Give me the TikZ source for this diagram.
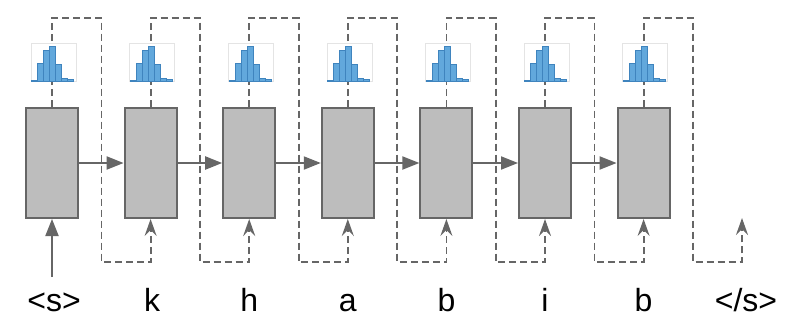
\documentclass[tikz,border=0pt]{standalone}
\usepackage{fontspec}
\setmainfont{Liberation Sans}
\usetikzlibrary{arrows.meta}
\definecolor{lg}{HTML}{666666}
\definecolor{boxfill}{HTML}{BDBDBD}
\definecolor{barblue}{HTML}{62A8DC}
\definecolor{baredge}{HTML}{3F84BE}
\definecolor{framegray}{HTML}{E4E4E4}
\tikzset{
  cell/.style={draw=lg, fill=boxfill, line width=2pt, minimum width=52pt, minimum height=110pt, inner sep=0pt},
  link/.style={draw=lg, line width=2pt, -{Triangle[length=17pt,width=13pt]}},
  feed/.style={draw=lg, line width=1.8pt, dash pattern=on 7pt off 4pt, -{Stealth[length=17pt,width=12pt,inset=6pt]}},
  tok/.style={font=\fontsize{32}{36}\selectfont, anchor=base, inner sep=0pt},
  hist/.pic={
    \fill[white] (-21,43) rectangle (24,81.5);
    \draw[framegray, line width=0.6pt] (-21,43) rectangle (24,81.5);
    \foreach \h [count=\k from 0] in {1.3,18.3,30.6,35.3,17.3,3.3,1.6}
      \filldraw[fill=barblue, draw=baredge, line width=0.5pt] ({-20.3+6*\k},81.3) rectangle ++(6,-\h);
  }
}
\begin{document}
\begin{tikzpicture}[x=1pt,y=-1pt]
\useasboundingbox (0,0) rectangle (786,330);
% cells
\foreach \i in {0,...,6}{
  \pgfmathsetmacro{\c}{52+98.6*\i}
  \node[cell] (b\i) at (\c,163) {};
  \coordinate (top\i) at (\c,18);
  \coordinate (mid\i) at (\c+49.5,262);
}
\foreach \i in {1,...,6}{\coordinate (in\i) at (b\i.south);}
\coordinate (in7) at (742,218);
% feedback dashed connectors
\foreach \i [evaluate=\i as \j using int(\i+1)] in {0,...,6}{
  \draw[feed] (b\i.north) -- (top\i) -| (mid\i) -| (in\j);
}
% histograms
\foreach \i in {0,...,6}{
  \pgfmathsetmacro{\c}{52+98.6*\i}
  \pic at (\c,0) {hist};
}
% recurrent links
\foreach \i [evaluate=\i as \j using int(\i+1)] in {0,...,5}{
  \draw[link] (b\i.east) -- (b\j.west);
}
% input arrow
\coordinate (start) at (52,277);
\draw[link] (start) -- (b0.south);
% tokens
\node[tok] (l0) at (54,311.5) {<s>};
\node[tok] (l1) at (152,311.5) {k};
\node[tok] (l2) at (249.2,311.5) {h};
\node[tok] (l3) at (347.8,311.5) {a};
\node[tok] (l4) at (446.4,311.5) {b};
\node[tok] (l5) at (545,311.5) {i};
\node[tok] (l6) at (643.6,311.5) {b};
\node[tok] (l7) at (746,311.5) {</s>};
\end{tikzpicture}
\end{document}
